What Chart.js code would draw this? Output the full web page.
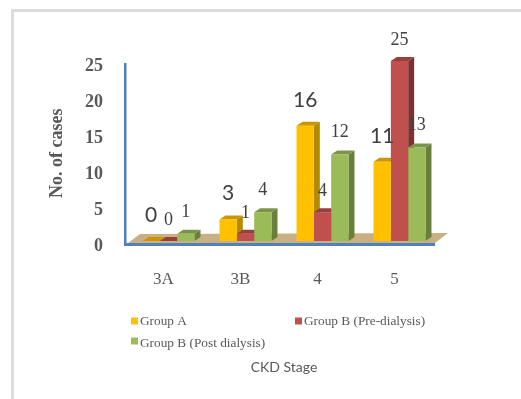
<!DOCTYPE html>
<html>
<head>
<meta charset="utf-8">
<style>
html,body{margin:0;padding:0;background:#fff;}
#wrap{position:relative;width:521px;height:399px;overflow:hidden;}
canvas{display:block;}
#frame{position:absolute;left:11px;top:9px;width:560px;height:440px;border:3px solid #dcdcdc;box-sizing:border-box;}
</style>
</head>
<body>
<div id="wrap"><div id="frame"></div><canvas id="chart" width="521" height="399"></canvas></div>
<script src="https://cdn.jsdelivr.net/npm/chart.js@4"></script>
<script>
const stages = ["3A", "3B", "4", "5"];
const groupA = [0, 3, 16, 11];
const groupBPre = [0, 1, 4, 25];
const groupBPost = [1, 4, 12, 13];
const yTicks = [0, 5, 10, 15, 20, 25];

const labelGroupA = "Group A";
const labelGroupBPre = "Group B (Pre-dialysis)";
const labelGroupBPost = "Group B (Post dialysis)";

const frontColors = ["#FFC000", "#C0504D", "#9BBB59"];
const sideColors = ["#B38A00", "#7B3331", "#6A7F3C"];
const topColors = ["#C89700", "#963F3C", "#7C9447"];
const valueFonts = ["21px Lato", "18px 'Liberation Serif'", "18px 'Liberation Serif'"];
const valueLifts = [26, 21, 22];
const textGrey = "#595959";
const depthX = 6, depthY = 4;

function polygon(ctx, pts, fill) {
  ctx.fillStyle = fill;
  ctx.beginPath();
  pts.forEach((p, i) => i ? ctx.lineTo(p[0], p[1]) : ctx.moveTo(p[0], p[1]));
  ctx.closePath();
  ctx.fill();
}

// Floor, axis lines and the extruded faces sit behind the front faces of the bars.
const depthFaces = {
  id: "depthFaces",
  beforeDatasetsDraw(chart) {
    const { ctx, chartArea: a } = chart;
    ctx.save();
    polygon(ctx, [[a.left - 2, a.bottom + 2], [a.left + 10, a.bottom - 7],
                  [a.right + 10, a.bottom - 8], [a.right - 3, a.bottom + 2]], "#C9B084");
    chart.data.datasets.forEach((ds, i) => {
      chart.getDatasetMeta(i).data.forEach(bar => {
        const l = bar.x - bar.width / 2, r = bar.x + bar.width / 2;
        polygon(ctx, [[r, bar.y], [r + depthX, bar.y - depthY],
                      [r + depthX, bar.base - depthY], [r, bar.base]], sideColors[i]);
        polygon(ctx, [[l, bar.y], [l + depthX, bar.y - depthY],
                      [r + depthX, bar.y - depthY], [r, bar.y]], topColors[i]);
      });
    });
    ctx.fillStyle = "#4F81BD";
    ctx.fillRect(a.left - 6, a.bottom + 2, a.right - a.left + 3, 3);
    ctx.fillRect(a.left - 6, a.top + 2, 2.5, a.bottom - a.top + 3);
    ctx.restore();
  },
  afterDatasetsDraw(chart) {
    const { ctx } = chart;
    ctx.save();
    ctx.textAlign = "center";
    ctx.textBaseline = "middle";
    ctx.fillStyle = "#404040";
    chart.data.datasets.forEach((ds, i) => {
      ctx.font = valueFonts[i];
      chart.getDatasetMeta(i).data.forEach((bar, j) => {
        ctx.fillText(String(ds.data[j]), bar.x, bar.y - valueLifts[i]);
      });
    });
    ctx.restore();
  }
};

// Two-row legend with aligned columns under the category labels.
const columnLegend = {
  id: "columnLegend",
  afterDraw(chart) {
    const { ctx } = chart;
    const cells = [[131, 321, 321.5], [295, 321, 321.5], [131, 341, 344]];
    ctx.save();
    ctx.font = "13.3px 'Liberation Serif'";
    ctx.textAlign = "left";
    ctx.textBaseline = "middle";
    chart.data.datasets.forEach((ds, i) => {
      const [x, swatchY, textY] = cells[i];
      ctx.fillStyle = frontColors[i];
      ctx.fillRect(x, swatchY - 3.5, 7, 7);
      ctx.fillStyle = textGrey;
      ctx.fillText(ds.label, x + 9, textY);
    });
    ctx.restore();
  }
};

new Chart(document.getElementById("chart"), {
  type: "bar",
  data: {
    labels: stages,
    datasets: [
      { label: labelGroupA, data: groupA, backgroundColor: frontColors[0] },
      { label: labelGroupBPre, data: groupBPre, backgroundColor: frontColors[1] },
      { label: labelGroupBPost, data: groupBPost, backgroundColor: frontColors[2] }
    ]
  },
  options: {
    responsive: false,
    animation: false,
    layout: { padding: { top: 61, right: 83, left: 0, bottom: 0 } },
    categoryPercentage: 0.675,
    barPercentage: 1,
    plugins: { legend: { display: false }, tooltip: { enabled: false } },
    scales: {
      x: {
        grid: { display: false },
        border: { display: false },
        afterFit(scale) { scale.height = 158; },
        ticks: {
          color: textGrey,
          font: { family: "'Liberation Serif'", size: 17 },
          padding: 20,
          labelOffset: -5,
          maxRotation: 0
        },
        title: {
          display: true,
          text: "CKD Stage",
          color: textGrey,
          font: { family: "Lato", size: 14 },
          padding: { top: 0, bottom: 23 }
        }
      },
      y: {
        min: 0,
        max: 25,
        grid: { display: false },
        border: { display: false },
        afterFit(scale) { scale.width = 130; },
        afterBuildTicks(scale) { scale.ticks = yTicks.map(value => ({ value })); },
        ticks: {
          color: textGrey,
          font: { family: "'Liberation Serif'", size: 18, weight: "bold" },
          padding: 19,
          labelOffset: 5
        },
        title: {
          display: true,
          text: "No. of cases ",
          color: textGrey,
          font: { family: "'Liberation Serif'", size: 18, weight: "bold" },
          padding: { top: 47, bottom: 0 }
        }
      }
    }
  },
  plugins: [depthFaces, columnLegend]
});
</script>
</body>
</html>
